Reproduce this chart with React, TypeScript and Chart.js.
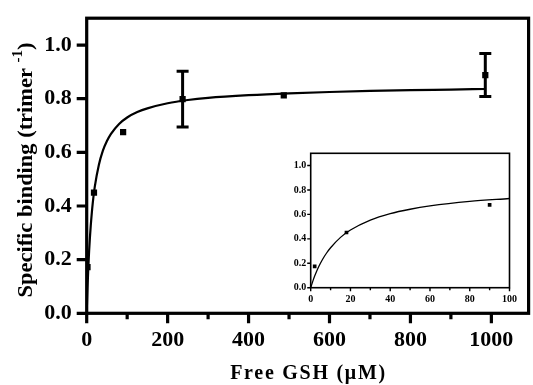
import React, { useEffect, useRef } from "react";
import { Chart, registerables } from "chart.js";

Chart.register(...registerables);

// ---- data ----
const freeGSH = [2, 18, 90, 237, 487, 985];
const binding = [0.172, 0.45, 0.675, 0.798, 0.812, 0.888];
const bindingErr = [0, 0, 0, 0.104, 0, 0.08];

const insetGSH = [2, 18, 90];
const insetBinding = [0.175, 0.452, 0.678];

const fitGSH = [0, 1, 2, 4, 6, 8, 10, 15, 20, 30, 40, 50, 60, 80, 100, 125, 150, 200, 250, 300, 400, 500, 600, 700, 800, 900, 985];
const fitBinding = [0, 0.05, 0.095, 0.171, 0.233, 0.284, 0.327, 0.412, 0.472, 0.553, 0.606, 0.642, 0.669, 0.706, 0.73, 0.75, 0.764, 0.783, 0.795, 0.803, 0.813, 0.82, 0.825, 0.829, 0.832, 0.834, 0.836];

const mainXTicks = [0, 200, 400, 600, 800, 1000];
const mainXMinor = [100, 300, 500, 700, 900];
const mainYTicks = [0, 0.2, 0.4, 0.6, 0.8, 1.0];
const insetXTicks = [0, 20, 40, 60, 80, 100];
const insetXMinor = [10, 30, 50, 70, 90];
const insetYTicks = [0, 0.2, 0.4, 0.6, 0.8, 1.0];

const xTitle = "Free GSH (\u03BCM)";
const yTitleMain = "Specific binding (trimer ";
const yTitleSup = "-1";
const yTitleEnd = ")";

const SERIF = '"Liberation Serif", "Times New Roman", Times, serif';

type FrameCfg = {
  id: string;
  frameWidth: number;
  tickWidth: number;
  xMajor: number[];
  xMinor: number[];
  yMajor: number[];
  majorLen: number;
  minorLen: number;
  fillWhite: boolean;
};

function framePlugin(cfg: FrameCfg) {
  return {
    id: cfg.id,
    beforeDatasetsDraw(chart: any) {
      if (!cfg.fillWhite) return;
      const { ctx, chartArea: a } = chart;
      ctx.save();
      ctx.fillStyle = "#fff";
      ctx.fillRect(a.left, a.top, a.right - a.left, a.bottom - a.top);
      ctx.restore();
    },
    afterDraw(chart: any) {
      const { ctx, chartArea: a, scales } = chart;
      ctx.save();
      ctx.strokeStyle = "#000";
      ctx.lineWidth = cfg.frameWidth;
      ctx.strokeRect(a.left, a.top, a.right - a.left, a.bottom - a.top);
      ctx.lineWidth = cfg.tickWidth;
      ctx.beginPath();
      for (const v of cfg.xMajor) {
        const px = scales.x.getPixelForValue(v);
        ctx.moveTo(px, a.bottom);
        ctx.lineTo(px, a.bottom + cfg.majorLen);
      }
      for (const v of cfg.xMinor) {
        const px = scales.x.getPixelForValue(v);
        ctx.moveTo(px, a.bottom);
        ctx.lineTo(px, a.bottom + cfg.minorLen);
      }
      for (const v of cfg.yMajor) {
        const py = scales.y.getPixelForValue(v);
        ctx.moveTo(a.left, py);
        ctx.lineTo(a.left - cfg.majorLen, py);
      }
      ctx.stroke();
      ctx.restore();
    },
  };
}

const errorBarPlugin = {
  id: "errorBars",
  afterDatasetsDraw(chart: any) {
    const { ctx, scales } = chart;
    ctx.save();
    ctx.strokeStyle = "#000";
    ctx.lineWidth = 3;
    ctx.beginPath();
    freeGSH.forEach((x, i) => {
      const e = bindingErr[i];
      if (!e) return;
      const px = scales.x.getPixelForValue(x);
      const pTop = scales.y.getPixelForValue(binding[i] + e);
      const pBot = scales.y.getPixelForValue(binding[i] - e);
      ctx.moveTo(px, pTop);
      ctx.lineTo(px, pBot);
      ctx.moveTo(px - 6, pTop);
      ctx.lineTo(px + 6, pTop);
      ctx.moveTo(px - 6, pBot);
      ctx.lineTo(px + 6, pBot);
    });
    ctx.stroke();
    ctx.restore();
  },
};

const titlesPlugin = {
  id: "titles",
  afterDraw(chart: any) {
    const { ctx, chartArea: a } = chart;
    ctx.save();
    ctx.fillStyle = "#000";
    // x title
    ctx.font = `bold 20px ${SERIF}`;
    const natural = ctx.measureText(xTitle).width;
    const n = xTitle.length;
    const spacing = Math.max(0, (155 - natural) / (n - 1));
    (ctx as any).letterSpacing = `${spacing}px`;
    const w = ctx.measureText(xTitle).width;
    ctx.textAlign = "left";
    ctx.textBaseline = "alphabetic";
    const cx = (a.left + a.right) / 2;
    ctx.fillText(xTitle, cx - (w - spacing) / 2, 379);
    (ctx as any).letterSpacing = "0px";

    // y title (rotated)
    ctx.font = `bold 21px ${SERIF}`;
    const w1 = ctx.measureText(yTitleMain).width;
    ctx.font = `bold 14px ${SERIF}`;
    const w2 = ctx.measureText(yTitleSup).width;
    ctx.font = `bold 21px ${SERIF}`;
    const w3 = ctx.measureText(yTitleEnd).width;
    const total = w1 + w2 + w3;
    const target = 255;
    const s = target / total;
    ctx.translate(31.5, 170);
    ctx.rotate(-Math.PI / 2);
    ctx.scale(s, 1);
    let x0 = -total / 2;
    ctx.font = `bold 21px ${SERIF}`;
    ctx.fillText(yTitleMain, x0, 0);
    x0 += w1;
    ctx.font = `bold 14px ${SERIF}`;
    ctx.fillText(yTitleSup, x0, -10);
    x0 += w2;
    ctx.font = `bold 21px ${SERIF}`;
    ctx.fillText(yTitleEnd, x0, 0);
    ctx.restore();
  },
};

export default function App() {
  const mainRef = useRef<HTMLCanvasElement>(null);
  const insetRef = useRef<HTMLCanvasElement>(null);

  useEffect(() => {
    const mainCanvas = mainRef.current!;
    const insetCanvas = insetRef.current!;

    const main = new Chart(mainCanvas, {
      type: "scatter",
      data: {
        datasets: [
          {
            data: fitGSH.map((x, i) => ({ x, y: fitBinding[i] })),
            showLine: true,
            borderColor: "#000",
            borderWidth: 2.2,
            pointRadius: 0,
            cubicInterpolationMode: "monotone",
            fill: false,
          } as any,
          {
            data: freeGSH.map((x, i) => ({ x, y: binding[i] })),
            pointStyle: "rect",
            pointRadius: 4.4,
            backgroundColor: "#000",
            borderColor: "#000",
            borderWidth: 0,
            showLine: false,
          } as any,
        ],
      },
      options: {
        animation: false,
        responsive: false,
        devicePixelRatio: 1,
        layout: { padding: { top: 15.6, right: 3.2, left: 0, bottom: 0 } },
        plugins: { legend: { display: false }, tooltip: { enabled: false } },
        scales: {
          x: {
            type: "linear",
            min: 0,
            max: 1092,
            afterBuildTicks: (sc: any) => {
              sc.ticks = mainXTicks.map((v) => ({ value: v }));
            },
            afterFit: (sc: any) => {
              sc.height = 71.7;
            },
            grid: { display: false, drawTicks: true, tickLength: 10 },
            border: { display: false },
            ticks: {
              color: "#000",
              padding: 4,
              maxRotation: 0,
              font: { family: SERIF, size: 22, weight: "bold" },
              callback: (v: any) => String(v),
            },
          },
          y: {
            type: "linear",
            min: 0,
            max: 1.1,
            afterBuildTicks: (sc: any) => {
              sc.ticks = mainYTicks.map((v) => ({ value: v }));
            },
            afterFit: (sc: any) => {
              sc.width = 86.7;
            },
            grid: { display: false, drawTicks: true, tickLength: 10 },
            border: { display: false },
            ticks: {
              color: "#000",
              padding: 5,
              font: { family: SERIF, size: 22, weight: "bold" },
              callback: (v: any) => Number(v).toFixed(1),
            },
          },
        },
      } as any,
      plugins: [
        framePlugin({
          id: "mainFrame",
          frameWidth: 3.2,
          tickWidth: 3.2,
          xMajor: mainXTicks,
          xMinor: mainXMinor,
          yMajor: mainYTicks,
          majorLen: 10,
          minorLen: 6,
          fillWhite: false,
        }),
        errorBarPlugin,
        titlesPlugin,
      ],
    });

    const insetFit = fitGSH
      .map((x, i) => ({ x, y: fitBinding[i] }))
      .filter((p) => p.x <= 100);

    const inset = new Chart(insetCanvas, {
      type: "scatter",
      data: {
        datasets: [
          {
            data: insetFit,
            showLine: true,
            borderColor: "#000",
            borderWidth: 1.3,
            pointRadius: 0,
            cubicInterpolationMode: "monotone",
            fill: false,
          } as any,
          {
            data: insetGSH.map((x, i) => ({ x, y: insetBinding[i] })),
            pointStyle: "rect",
            pointRadius: 2.6,
            backgroundColor: "#000",
            borderColor: "#000",
            borderWidth: 0,
            showLine: false,
          } as any,
        ],
      },
      options: {
        animation: false,
        responsive: false,
        devicePixelRatio: 1,
        layout: { padding: { top: 8.3, right: 8.3, left: 0, bottom: 0 } },
        plugins: { legend: { display: false }, tooltip: { enabled: false } },
        scales: {
          x: {
            type: "linear",
            min: 0,
            max: 100,
            afterBuildTicks: (sc: any) => {
              sc.ticks = insetXTicks.map((v) => ({ value: v }));
            },
            afterFit: (sc: any) => {
              sc.height = 22.3;
            },
            grid: { display: false, drawTicks: true, tickLength: 3 },
            border: { display: false },
            ticks: {
              color: "#000",
              padding: 3,
              maxRotation: 0,
              font: { family: SERIF, size: 10, weight: "bold" },
              callback: (v: any) => String(v),
            },
          },
          y: {
            type: "linear",
            min: 0,
            max: 1.1,
            afterBuildTicks: (sc: any) => {
              sc.ticks = insetYTicks.map((v) => ({ value: v }));
            },
            afterFit: (sc: any) => {
              sc.width = 30.7;
            },
            grid: { display: false, drawTicks: true, tickLength: 3.5 },
            border: { display: false },
            ticks: {
              color: "#000",
              padding: 1,
              font: { family: SERIF, size: 10, weight: "bold" },
              callback: (v: any) => Number(v).toFixed(1),
            },
          },
        },
      } as any,
      plugins: [
        framePlugin({
          id: "insetFrame",
          frameWidth: 1.6,
          tickWidth: 1.4,
          xMajor: insetXTicks,
          xMinor: insetXMinor,
          yMajor: insetYTicks,
          majorLen: 3.5,
          minorLen: 2.5,
          fillWhite: true,
        }),
      ],
    });

    return () => {
      main.destroy();
      inset.destroy();
    };
  }, []);

  return (
    <div style={{ position: "fixed", left: 0, top: 0, width: 533, height: 385, background: "#fff" }}>
      <canvas
        ref={mainRef}
        width={533}
        height={385}
        style={{ position: "absolute", left: 0, top: 0, width: 533, height: 385 }}
      />
      <canvas
        ref={insetRef}
        width={240}
        height={165}
        style={{ position: "absolute", left: 280, top: 145, width: 240, height: 165 }}
      />
    </div>
  );
}
